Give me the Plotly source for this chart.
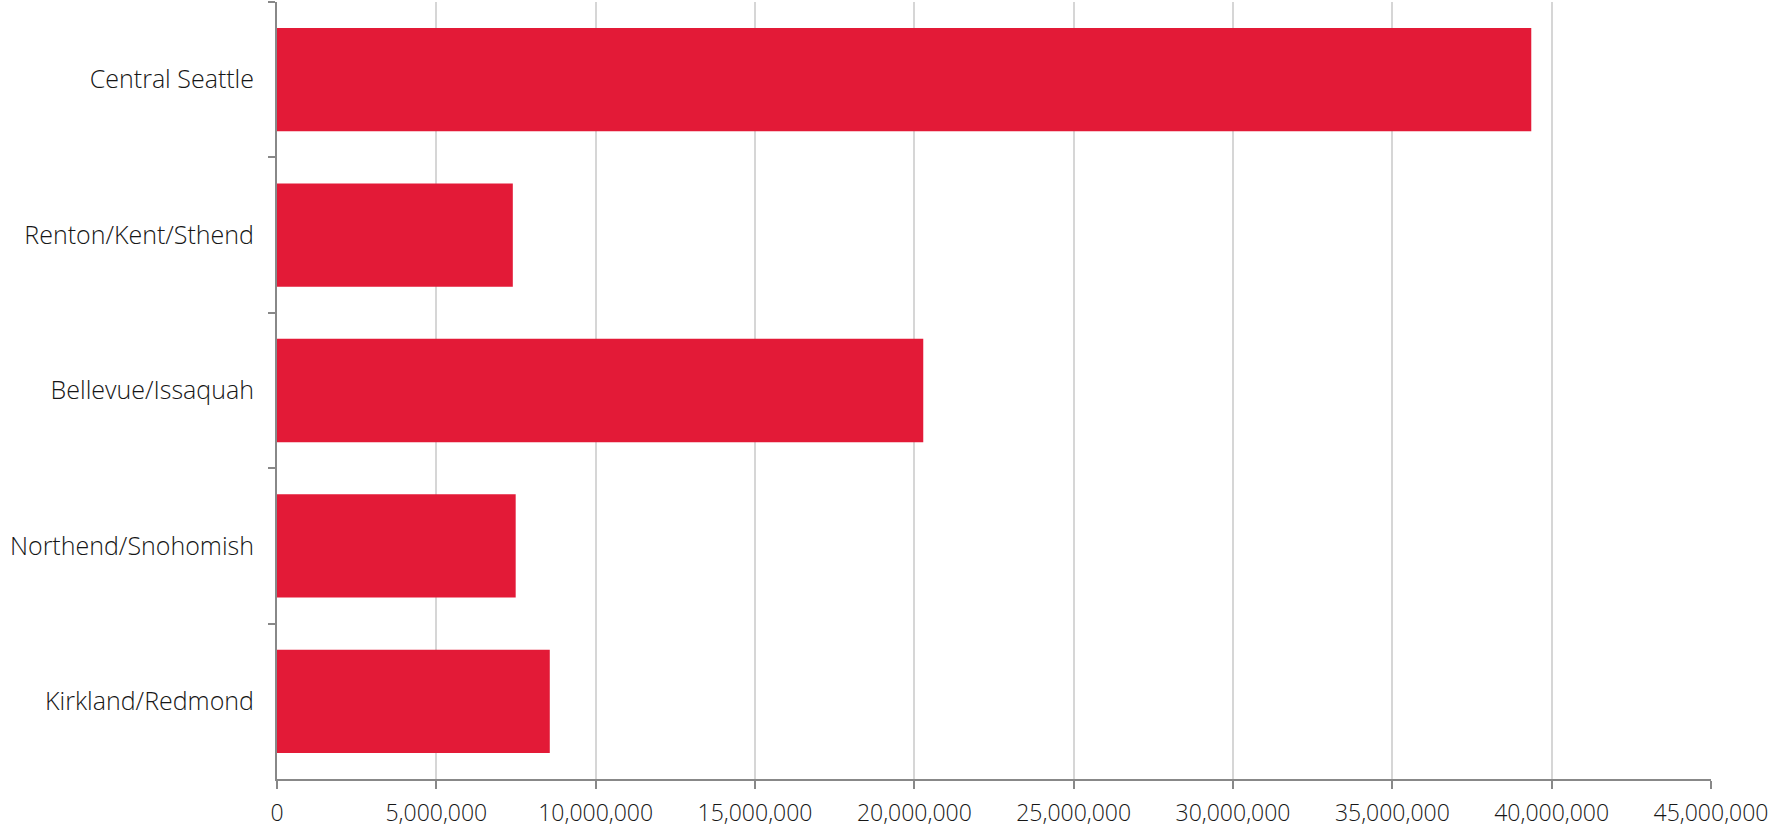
import plotly.graph_objects as go

# regions, listed top to bottom as in the chart
regions = ["Central Seattle", "Renton/Kent/Sthend", "Bellevue/Issaquah",
           "Northend/Snohomish", "Kirkland/Redmond"]
values = [39360000, 7400000, 20280000, 7490000, 8560000]

x_ticks = [0, 5000000, 10000000, 15000000, 20000000, 25000000,
           30000000, 35000000, 40000000, 45000000]

bar_color = "#E31A37"
axis_color = "#888888"
grid_color = "#D6D6D6"
text_color = "#161616"
font_family = "'Open Sans', Lato, sans-serif"

fig = go.Figure()
fig.add_trace(go.Bar(
    x=values,
    y=regions,
    orientation="h",
    marker=dict(color=bar_color, line=dict(width=0)),
    hoverinfo="x+y",
))

fig.update_layout(
    width=1774,
    height=830,
    margin=dict(l=277, r=63, t=2, b=45),
    paper_bgcolor="white",
    plot_bgcolor="white",
    bargap=0.335,
    showlegend=False,
    font=dict(family=font_family, size=23, color=text_color, weight=300),
)

fig.update_xaxes(
    range=[0, 45000000],
    tickvals=x_ticks,
    tickformat=",d",
    showgrid=True,
    gridcolor=grid_color,
    gridwidth=1.5,
    zeroline=False,
    showline=True,
    linecolor=axis_color,
    linewidth=2,
    ticks="outside",
    ticklen=8,
    tickwidth=2,
    tickcolor=axis_color,
    ticklabelstandoff=4,
    tickfont=dict(family=font_family, size=23, color=text_color, weight=300),
)

fig.update_yaxes(
    autorange="reversed",
    showgrid=False,
    zeroline=False,
    showline=True,
    linecolor=axis_color,
    linewidth=2,
    ticks="outside",
    tickson="boundaries",
    ticklen=7,
    tickwidth=2,
    tickcolor=axis_color,
    ticklabelstandoff=16,
    tickfont=dict(family=font_family, size=25, color=text_color, weight=300),
)

# drop the page's default body margin so the figure sits at the window corner
fig.write_html("out.html", config={"displayModeBar": False},
               post_script="document.body.style.margin='0';")
